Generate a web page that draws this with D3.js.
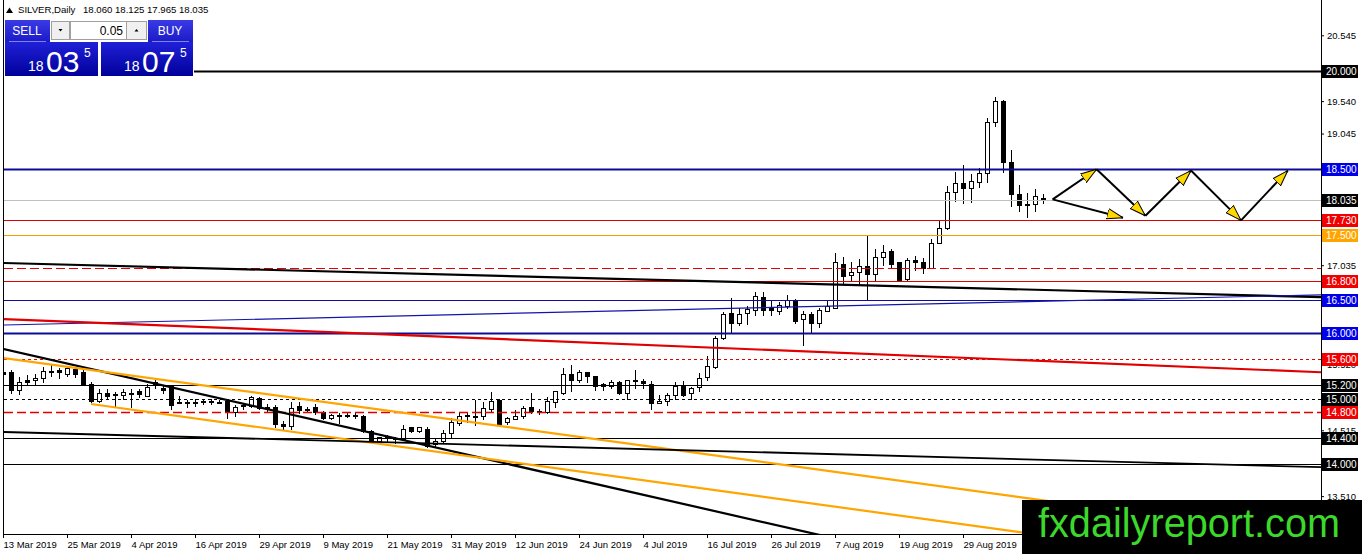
<!DOCTYPE html>
<html>
<head>
<meta charset="utf-8">
<style>
    body { margin: 0; background: #fff; }
    svg { display: block; font-family: 'Liberation Sans', Arial, sans-serif; }
    .x .domain, .y .domain { display: none; }
    .x .tick line, .y .tick line { stroke: #000; }
    .x .tick text, .y .tick text { font-size: 9.5px; fill: #000; }
</style>
</head>
<body>
<svg width="1362" height="554"></svg>
<script src="https://cdn.jsdelivr.net/npm/d3@7"></script>
<script>
// SILVER daily bars, 13 Mar 2019 .. 12 Sep 2019
let open = [15.40,15.40,15.12,15.28,15.27,15.30,15.40,15.43,15.37,15.45,
    15.40,15.22,14.95,15.07,15.06,15.04,15.08,15.10,15.03,15.25,
    15.15,15.18,14.93,14.94,14.92,14.94,14.96,14.94,14.95,14.78,
    14.88,14.88,15.00,14.84,14.87,14.61,14.57,14.88,14.83,14.86,
    14.79,14.70,14.73,14.74,14.73,14.73,14.50,14.34,14.39,14.39,
    14.38,14.55,14.50,14.53,14.30,14.34,14.46,14.62,14.74,14.72,
    14.73,14.83,14.97,14.63,14.68,14.72,14.86,14.80,14.78,14.94,
    15.08,15.36,15.27,15.39,15.33,15.21,15.19,15.24,15.08,15.26,
    15.26,15.22,14.93,14.95,15.04,15.18,15.07,15.17,15.32,15.48,
    15.92,16.30,16.15,16.30,16.34,16.54,16.37,16.33,16.40,16.50,
    16.20,16.28,16.14,16.33,16.38,17.05,16.88,16.92,17.01,16.89,
    17.16,17.24,17.07,16.81,17.11,17.08,16.99,17.37,17.60,18.14,
    18.29,18.21,18.30,18.43,19.21,19.54,18.60,18.11,17.96,17.96,
    18.06]
let high = [15.48,15.44,15.33,15.36,15.37,15.48,15.52,15.47,15.50,15.48,
    15.45,15.25,15.14,15.14,15.10,15.15,15.14,15.14,15.22,15.30,
    15.19,15.21,15.04,14.98,14.99,15.00,15.00,14.97,14.98,14.90,
    14.93,15.04,15.03,14.92,14.90,14.65,14.94,14.94,14.87,14.92,
    14.81,14.77,14.78,14.79,14.80,14.75,14.52,14.42,14.44,14.42,
    14.60,14.57,14.57,14.56,14.38,14.52,14.70,14.80,14.80,14.97,
    14.95,15.10,14.99,14.72,14.82,14.88,15.08,14.84,15.02,15.12,
    15.46,15.51,15.43,15.40,15.34,15.24,15.28,15.26,15.29,15.43,
    15.30,15.26,15.05,15.09,15.25,15.26,15.18,15.39,15.65,15.96,
    16.32,16.53,16.38,16.42,16.62,16.62,16.50,16.47,16.58,16.52,
    16.33,16.32,16.38,16.50,17.22,17.16,17.08,17.13,17.48,17.29,
    17.34,17.28,17.09,17.14,17.18,17.14,17.43,17.72,18.25,18.46,
    18.56,18.43,18.52,19.28,19.61,19.55,18.80,18.26,18.14,18.20,
    18.125]
let low = [15.30,15.07,15.05,15.19,15.20,15.24,15.33,15.30,15.33,15.32,
    15.20,14.93,14.93,14.98,14.85,14.98,14.85,15.01,15.02,15.15,
    15.07,14.83,14.91,14.85,14.87,14.90,14.90,14.92,14.69,14.72,
    14.82,14.85,14.82,14.80,14.55,14.52,14.52,14.76,14.78,14.75,
    14.67,14.67,14.61,14.70,14.69,14.47,14.32,14.32,14.34,14.31,
    14.36,14.48,14.48,14.24,14.25,14.31,14.40,14.58,14.62,14.58,
    14.67,14.80,14.58,14.59,14.67,14.69,14.77,14.75,14.76,14.86,
    15.05,15.10,15.24,15.24,15.12,15.12,15.15,15.05,14.98,15.14,
    15.15,14.83,14.91,14.89,14.98,15.03,14.98,15.10,15.26,15.45,
    15.89,15.99,16.11,16.12,16.26,16.26,16.26,16.27,16.36,16.14,
    15.80,16.00,16.08,16.32,16.37,16.74,16.78,16.74,16.50,16.80,
    17.03,16.98,16.78,16.78,16.95,16.90,16.97,17.36,17.58,18.00,
    17.97,17.98,18.21,18.29,19.14,18.44,17.92,17.85,17.76,17.85,
    17.965]
let close = [15.36,15.13,15.24,15.25,15.31,15.41,15.41,15.39,15.46,15.36,
    15.22,14.95,15.07,15.03,15.04,15.09,15.07,15.06,15.17,15.20,
    15.13,14.90,14.94,14.93,14.94,14.96,14.94,14.93,14.80,14.86,
    14.89,15.01,14.84,14.87,14.60,14.57,14.85,14.82,14.82,14.78,
    14.69,14.74,14.74,14.73,14.74,14.49,14.34,14.40,14.40,14.38,
    14.52,14.50,14.55,14.27,14.35,14.46,14.64,14.72,14.73,14.73,
    14.84,14.95,14.61,14.69,14.72,14.84,14.80,14.79,14.96,15.10,
    15.36,15.27,15.39,15.33,15.19,15.18,15.25,15.07,15.27,15.27,
    15.23,14.93,14.96,15.05,15.18,15.05,15.16,15.31,15.49,15.91,
    16.29,16.15,16.29,16.36,16.55,16.34,16.34,16.42,16.49,16.18,
    16.28,16.14,16.34,16.40,17.07,16.87,16.93,17.02,16.89,17.16,
    17.23,17.05,16.80,17.11,17.07,16.99,17.36,17.60,18.14,18.29,
    18.21,18.31,18.43,19.22,19.53,18.60,18.12,17.95,17.95,18.08,
    18.035]

let holidays = ["2019-04-19"]
let symbol = "SILVER,Daily"
let bid = 18.035
let ask = 18.075
let lot = 0.05

// horizontal levels drawn on the chart
let levelPrices = [20.000, 18.500, 18.035, 17.730, 17.500, 17.000, 16.800, 16.500, 16.000, 15.600, 15.200, 15.000, 14.800, 14.400, 14.000]
// price scale tick labels
let tickPrices = [20.545, 19.540, 19.045, 17.035, 15.520, 14.515, 13.510]
// date labels every 8 bars, the last visible one is 29 Aug
let dateTicks = [0, 8, 16, 24, 32, 40, 48, 56, 64, 72, 80, 88, 96, 104, 112, 120]

// trend lines: [bar index, price] -> [bar index, price]
let trendNames = ["blackTop", "blueSlope", "redSlope", "blackSteep", "orangeTop", "orangeLow", "blackLow"]
let trendFrom = [[0, 17.069], [0, 16.122], [0, 16.214], [0, 15.756], [0, 15.618], [11, 14.916], [0, 14.489]]
let trendTo = [[164, 16.550], [164, 16.580], [164, 15.405], [101, 12.947], [127, 13.496], [127, 12.962], [164, 13.954]]

// projection arrows: [bar index, price]
let arrowFrom = [[131.2, 18.04], [131.2, 18.04], [136.7, 18.50], [142.8, 17.79], [148.5, 18.48], [154.75, 17.72]]
let arrowTo = [[136.7, 18.50], [140.0, 17.76], [142.8, 17.79], [148.5, 18.48], [154.75, 17.72], [160.6, 18.48]]

let svg = d3.select("svg")
let plot = { left: 4, right: 1321, top: 0, bottom: 534 }

let dates = d3.utcDay.range(new Date(Date.UTC(2019, 2, 13)), new Date(Date.UTC(2019, 8, 13)))
    .filter(d => d.getUTCDay() % 6 !== 0 && !holidays.includes(d3.utcFormat("%Y-%m-%d")(d)))

let bars = dates.map((d, i) => ({ i: i, date: d, o: open[i], h: high[i], l: low[i], c: close[i] }))

let x = d3.scaleLinear().domain([0, 130]).range([3, 1043])
let y = d3.scaleLinear().domain([12.947, 21.038]).range([533, 3])

let defs = svg.append("defs")
defs.append("clipPath").attr("id", "plotclip")
    .append("rect")
    .attr("x", plot.left).attr("y", plot.top)
    .attr("width", plot.right - plot.left).attr("height", plot.bottom - plot.top)

defs.append("marker")
    .attr("id", "head")
    .attr("viewBox", "0 0 16 12")
    .attr("refX", 16).attr("refY", 6)
    .attr("markerWidth", 16).attr("markerHeight", 12)
    .attr("markerUnits", "userSpaceOnUse")
    .attr("orient", "auto")
    .append("path")
    .attr("d", "M0,0.8 L16,6 L0,11.2 Z")
    .attr("fill", "#ffd800")
    .attr("stroke", "#000")
    .attr("stroke-width", 1)

// axes
let fmtDate = d3.utcFormat("%-d %b %Y")
let xAxis = svg.append("g")
    .attr("class", "x axis")
    .attr("transform", `translate(0,${plot.bottom})`)
    .call(d3.axisBottom(x)
        .tickValues(dateTicks)
        .tickFormat(i => fmtDate(dates[i]))
        .tickSize(4)
        .tickPadding(3))
xAxis.selectAll(".tick text").attr("text-anchor", "start").attr("x", 0)

svg.append("g")
    .attr("class", "y axis")
    .attr("transform", `translate(${plot.right},0)`)
    .call(d3.axisRight(y)
        .tickValues(tickPrices)
        .tickFormat(d3.format(".3f"))
        .tickSize(3)
        .tickPadding(3))

// frame
svg.append("path")
    .attr("d", `M${plot.left - 0.5},0 V${plot.bottom + 0.5} H${plot.right + 0.5} V0`)
    .attr("fill", "none").attr("stroke", "#000").attr("stroke-width", 1)

let chart = svg.append("g").attr("clip-path", "url(#plotclip)")

// candles
let candles = chart.append("g").attr("shape-rendering", "crispEdges")
candles.selectAll("line")
    .data(bars)
    .join("line")
    .attr("x1", d => x(d.i) + 0.5).attr("x2", d => x(d.i) + 0.5)
    .attr("y1", d => y(d.h)).attr("y2", d => y(d.l))
    .attr("stroke", "#000")
candles.selectAll("rect")
    .data(bars)
    .join("rect")
    .attr("x", d => x(d.i) - 1.5)
    .attr("width", 4)
    .attr("y", d => y(Math.max(d.o, d.c)))
    .attr("height", d => Math.max(1, Math.abs(y(d.o) - y(d.c))))
    .attr("fill", d => d.c >= d.o ? "#fff" : "#000")
    .attr("stroke", "#000")

// level styles
let red = "#e00000", blue = "#0c0c9a", black = "#000"
let levelStyle = {
    "20.000": { stroke: black, w: 2, box: "#000" },
    "18.500": { stroke: blue, w: 2, box: "#0000e8" },
    "18.035": { stroke: "#c0c0c0", w: 1, box: "#000" },
    "17.730": { stroke: red, w: 1, box: "#f00000" },
    "17.500": { stroke: "#f5a000", w: 1, box: "#ffa500" },
    "17.000": { stroke: red, w: 1, dash: "9,4" },
    "16.800": { stroke: red, w: 1, box: "#f00000" },
    "16.500": { stroke: blue, w: 1, box: "#0000e8" },
    "16.000": { stroke: blue, w: 2.2, box: "#0000e8" },
    "15.600": { stroke: red, w: 1, dash: "3,3", box: "#f00000" },
    "15.200": { stroke: black, w: 1, box: "#000" },
    "15.000": { stroke: black, w: 1, dash: "3,3", box: "#000" },
    "14.800": { stroke: red, w: 1.3, dash: "9,4", box: "#f00000" },
    "14.400": { stroke: black, w: 1, box: "#000" },
    "14.000": { stroke: black, w: 1, box: "#000" }
}
let f3 = d3.format(".3f")

chart.append("g")
    .selectAll("line")
    .data(levelPrices)
    .join("line")
    .attr("x1", plot.left).attr("x2", plot.right)
    .attr("y1", d => Math.round(y(d)) + 0.5).attr("y2", d => Math.round(y(d)) + 0.5)
    .attr("stroke", d => levelStyle[f3(d)].stroke)
    .attr("stroke-width", d => levelStyle[f3(d)].w)
    .attr("stroke-dasharray", d => levelStyle[f3(d)].dash || null)

// trend lines
let trendStyle = {
    blackTop: { stroke: "#000", w: 2.2 },
    blueSlope: { stroke: "#1414a8", w: 1.2 },
    redSlope: { stroke: "#e00000", w: 2.2 },
    blackSteep: { stroke: "#000", w: 2.2 },
    orangeTop: { stroke: "#ffa500", w: 2.2 },
    orangeLow: { stroke: "#ffa500", w: 2.2 },
    blackLow: { stroke: "#000", w: 1.8 }
}
let rayEnd = 170
chart.append("g")
    .selectAll("line")
    .data(trendNames)
    .join("line")
    .attr("x1", (d, k) => x(trendFrom[k][0]))
    .attr("y1", (d, k) => y(trendFrom[k][1]))
    .attr("x2", (d, k) => x(rayEnd))
    .attr("y2", (d, k) => {
        let a = trendFrom[k], b = trendTo[k]
        let slope = (b[1] - a[1]) / (b[0] - a[0])
        return y(a[1] + slope * (rayEnd - a[0]))
    })
    .attr("stroke", d => trendStyle[d].stroke)
    .attr("stroke-width", d => trendStyle[d].w)

// arrows
svg.append("g")
    .selectAll("line")
    .data(arrowFrom)
    .join("line")
    .attr("x1", d => x(d[0])).attr("y1", d => y(d[1]))
    .attr("x2", (d, k) => x(arrowTo[k][0])).attr("y2", (d, k) => y(arrowTo[k][1]))
    .attr("stroke", "#000")
    .attr("stroke-width", 2)
    .attr("marker-end", "url(#head)")

// price labels on the scale
let boxes = svg.append("g")
    .selectAll("g")
    .data(levelPrices.filter(d => levelStyle[f3(d)].box))
    .join("g")
    .attr("transform", d => `translate(${plot.right + 1},${Math.round(y(d))})`)
boxes.append("rect")
    .attr("x", 0).attr("y", -6).attr("width", 36).attr("height", 13)
    .attr("fill", d => levelStyle[f3(d)].box)
boxes.append("text")
    .attr("x", 4).attr("y", 4)
    .attr("fill", "#fff")
    .attr("font-size", "10px")
    .text(d => f3(d))

// header
let last = bars[bars.length - 1]
svg.append("path").attr("d", "M6,13 L9.5,7.5 L13,13 Z").attr("fill", "#000")
svg.append("text").text(symbol)
    .attr("x", 18).attr("y", 13).attr("font-size", "9.6px").attr("fill", "#000")
svg.append("text").text([last.o, last.h, last.l, last.c].map(f3).join(" "))
    .attr("x", 83).attr("y", 13).attr("font-size", "9.6px").attr("fill", "#000")

// one click trading panel
let grad = defs.append("linearGradient").attr("id", "btn").attr("x1", 0).attr("y1", 0).attr("x2", 0).attr("y2", 1)
grad.append("stop").attr("offset", "0%").attr("stop-color", "#3a3ae6")
grad.append("stop").attr("offset", "100%").attr("stop-color", "#1a1ac8")
let grad2 = defs.append("linearGradient").attr("id", "pbox").attr("x1", 0).attr("y1", 0).attr("x2", 0).attr("y2", 1)
grad2.append("stop").attr("offset", "0%").attr("stop-color", "#2020d8")
grad2.append("stop").attr("offset", "100%").attr("stop-color", "#00009a")

let panel = svg.append("g")
panel.append("rect").attr("x", 4).attr("y", 19).attr("width", 190).attr("height", 58).attr("fill", "#fff")
panel.append("rect").attr("x", 5).attr("y", 20).attr("width", 45).attr("height", 22).attr("fill", "url(#btn)")
panel.append("rect").attr("x", 148).attr("y", 20).attr("width", 45).attr("height", 22).attr("fill", "url(#btn)")
panel.append("rect").attr("x", 51.5).attr("y", 21.5).attr("width", 18).attr("height", 18).attr("fill", "#f0f0f0").attr("stroke", "#a0a0a0")
panel.append("rect").attr("x", 70.5).attr("y", 21.5).attr("width", 56).attr("height", 18).attr("fill", "#fff").attr("stroke", "#a0a0a0")
panel.append("rect").attr("x", 126.5).attr("y", 21.5).attr("width", 20).attr("height", 18).attr("fill", "#f0f0f0").attr("stroke", "#a0a0a0")
panel.append("path").attr("d", "M58.5,29 L62.5,29 L60.5,31.5 Z").attr("fill", "#000")
panel.append("path").attr("d", "M134.5,31.5 L138.5,31.5 L136.5,29 Z").attr("fill", "#000")
panel.append("text").text(d3.format(".2f")(lot)).attr("x", 123).attr("y", 35).attr("text-anchor", "end").attr("font-size", "12px").attr("fill", "#000")
panel.append("text").text("SELL").attr("x", 27).attr("y", 35).attr("text-anchor", "middle").attr("font-size", "12px").attr("fill", "#fff")
panel.append("text").text("BUY").attr("x", 170).attr("y", 35).attr("text-anchor", "middle").attr("font-size", "12px").attr("fill", "#fff")
panel.append("line").attr("x1", 9).attr("x2", 46).attr("y1", 41.5).attr("y2", 41.5).attr("stroke", "#c8c8ff").attr("stroke-width", 0.6)
panel.append("line").attr("x1", 152).attr("x2", 189).attr("y1", 41.5).attr("y2", 41.5).attr("stroke", "#c8c8ff").attr("stroke-width", 0.6)

let quotes = [{ p: bid, x0: 5, w: 93 }, { p: ask, x0: 101, w: 92 }]
quotes.forEach(q => {
    let s = d3.format(".4f")(q.p)
    let g = panel.append("g").attr("transform", `translate(${q.x0},42)`)
    g.append("rect").attr("width", q.w).attr("height", 34).attr("fill", "url(#pbox)")
    g.append("text").text(s.slice(0, 2)).attr("x", 23).attr("y", 29).attr("font-size", "14px").attr("fill", "#fff")
    g.append("text").text(s.slice(3, 5)).attr("x", 41).attr("y", 30).attr("font-size", "30px").attr("fill", "#fff")
    g.append("text").text(s.slice(5, 6)).attr("x", 79).attr("y", 15).attr("font-size", "12px").attr("fill", "#fff")
})

// watermark
svg.append("rect").attr("x", 1022).attr("y", 500).attr("width", 340).attr("height", 54).attr("fill", "#000")
svg.append("text").text("fxdailyreport.com")
    .attr("x", 1038).attr("y", 537)
    .attr("font-size", "40px")
    .attr("textLength", 302).attr("lengthAdjust", "spacingAndGlyphs")
    .attr("fill", "#3cd82c")
</script>
</body>
</html>
